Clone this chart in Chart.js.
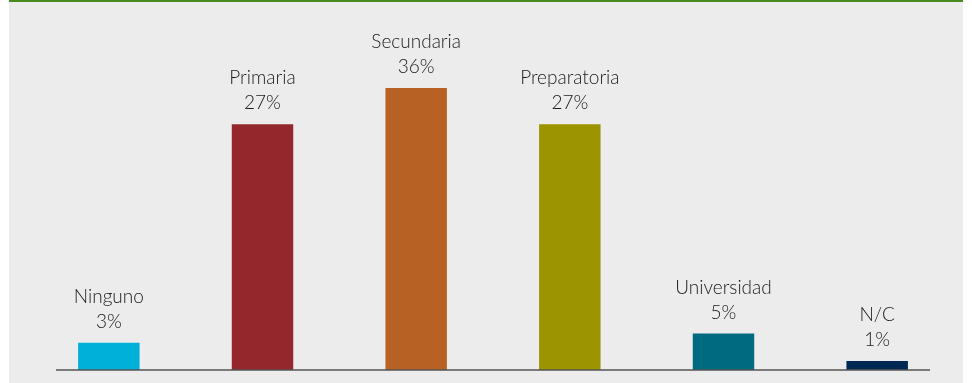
<!DOCTYPE html>
<html lang="es">
<head>
  <meta charset="UTF-8">
  <title>Escolaridad</title>
  <script src="https://cdn.jsdelivr.net/npm/chart.js"></script>
  <style>
    html, body { margin: 0; padding: 0; background: #fff; }
    .wrap { position: relative; width: 972px; height: 383px; }
    .panel { position: absolute; left: 9px; top: 0; width: 954px; height: 383px; background: #ececec; border-top: 2px solid #4b8a1f; box-sizing: border-box; }
    canvas { position: absolute; left: 0; top: 0; }
  </style>
</head>
<body>
<div class="wrap">
  <div class="panel"></div>
  <canvas id="chart" width="972" height="383"></canvas>
</div>

<script>
// categorias y alturas de barra
const categories = ["Ninguno", "Primaria", "Secundaria", "Preparatoria", "Universidad", "N/C"];
const values = [3, 27, 31, 27, 4, 1];
const pctLabels = ["3%", "27%", "36%", "27%", "5%", "1%"];
const barColors = ["#00b0d8", "#93272c", "#b76125", "#9c9400", "#006a80", "#002855"];

const labelPlugin = {
  id: 'barLabels',
  afterDatasetsDraw(chart) {
    const ctx = chart.ctx;
    const meta = chart.getDatasetMeta(0);
    ctx.save();
    ctx.fillStyle = '#1a1a1a';
    ctx.font = '300 19px Lato, sans-serif';
    ctx.textAlign = 'center';
    ctx.textBaseline = 'middle';
    meta.data.forEach((bar, i) => {
      ctx.fillText(categories[i], bar.x, bar.y - 46);
      ctx.fillText(pctLabels[i], bar.x, bar.y - 21);
    });
    ctx.restore();
  }
};

const baselinePlugin = {
  id: 'baseline',
  afterDatasetsDraw(chart) {
    const { ctx, chartArea } = chart;
    ctx.save();
    ctx.strokeStyle = '#555';
    ctx.lineWidth = 1.5;
    ctx.beginPath();
    ctx.moveTo(chartArea.left + 24, chartArea.bottom);
    ctx.lineTo(chartArea.right - 24, chartArea.bottom);
    ctx.stroke();
    ctx.restore();
  }
};

new Chart(document.getElementById('chart'), {
  type: 'bar',
  data: {
    labels: categories,
    datasets: [{ data: values, backgroundColor: barColors, barPercentage: 0.4, categoryPercentage: 1 }]
  },
  options: {
    responsive: false,
    animation: false,
    layout: { padding: { left: 32, right: 18, top: 6, bottom: 13 } },
    plugins: { legend: { display: false }, tooltip: { enabled: false } },
    scales: {
      x: { display: false },
      y: { display: false, min: 0, max: 40 }
    }
  },
  plugins: [labelPlugin, baselinePlugin]
});
</script>
</body>
</html>
